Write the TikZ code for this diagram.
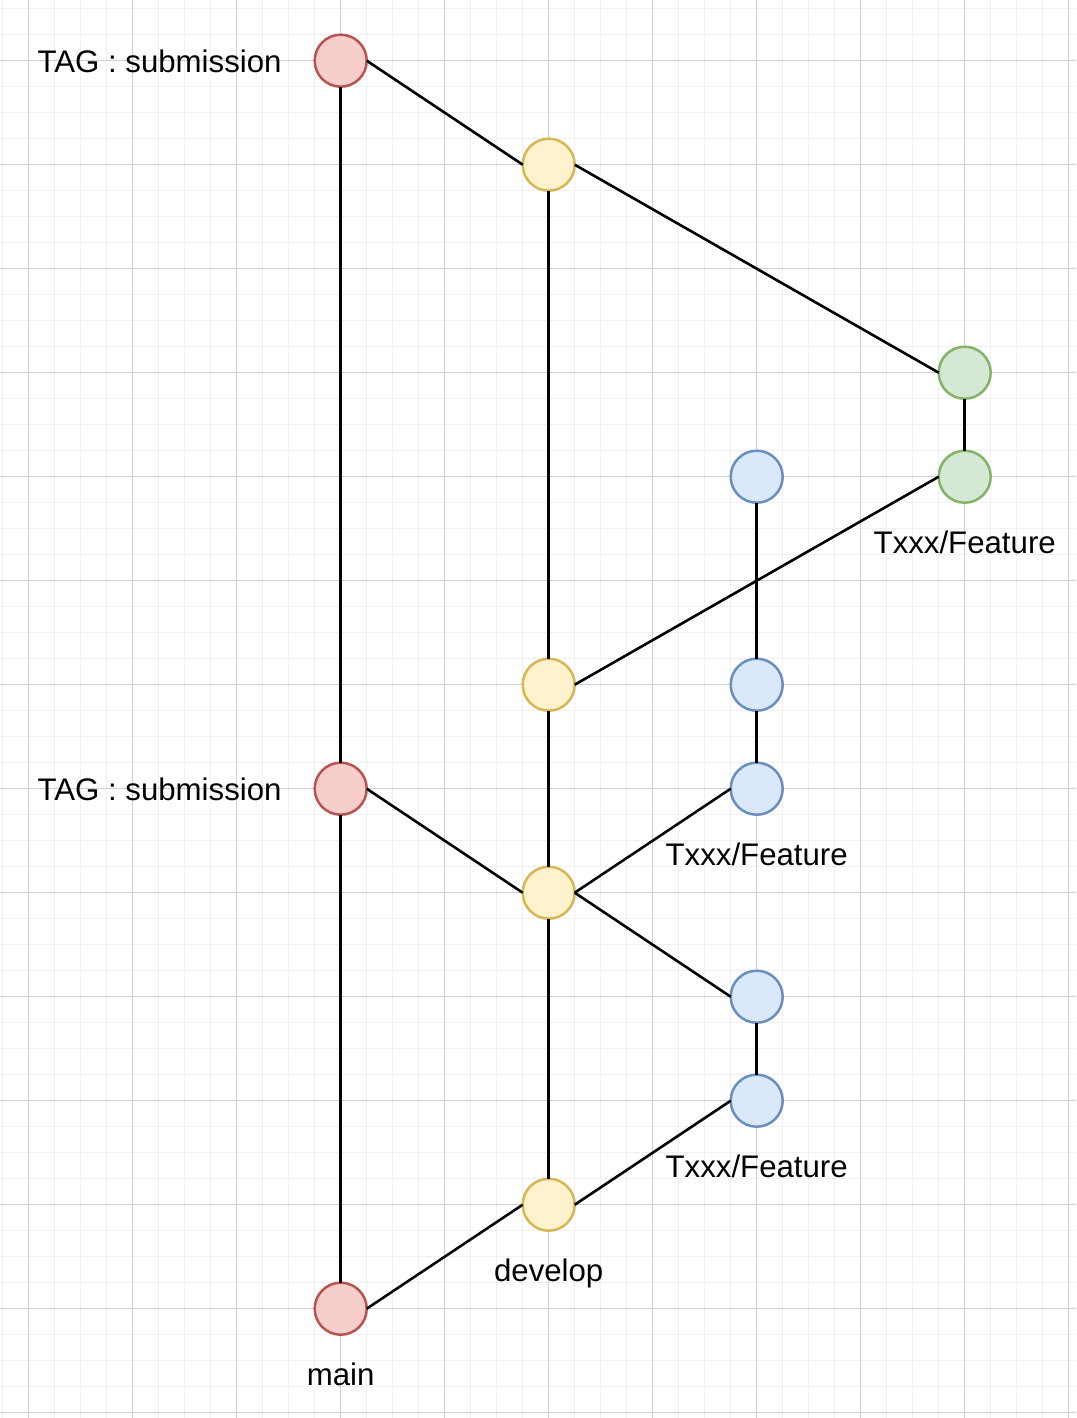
\documentclass[tikz,border=0pt]{standalone}
\usepackage{fontspec}
\setmainfont{Liberation Sans}
\usetikzlibrary{calc}
\definecolor{mainfill}{HTML}{F8CECC}
\definecolor{mainline}{HTML}{B85450}
\definecolor{devfill}{HTML}{FFF2CC}
\definecolor{devline}{HTML}{D6B656}
\definecolor{hotfill}{HTML}{D5E8D4}
\definecolor{hotline}{HTML}{82B366}
\definecolor{featfill}{HTML}{DAE8FC}
\definecolor{featline}{HTML}{6C8EBF}
\definecolor{minorgrid}{HTML}{F0F0F0}
\definecolor{majorgrid}{HTML}{D0D0D0}

\begin{document}
\begin{tikzpicture}[
    x=1pt, y=-1pt,
    commit/.style={circle, minimum size=52pt, inner sep=0pt, outer sep=0pt, line width=2.5pt},
    main commit/.style={commit, draw=mainline, fill=mainfill},
    dev commit/.style={commit, draw=devline, fill=devfill},
    hot commit/.style={commit, draw=hotline, fill=hotfill},
    feat commit/.style={commit, draw=featline, fill=featfill},
    branch/.style={line width=2.6pt},
    lbl/.style={font=\fontsize{31.2}{36}\selectfont, inner sep=0pt},
    ]
    \useasboundingbox[fill=white] (0,0) rectangle (1076,1418);
    % grid
    \foreach \k in {0,...,41} \draw[minorgrid, line width=1pt] ({2.7+26*\k},0) -- ({2.7+26*\k},1418);
    \foreach \k in {0,...,54} \draw[minorgrid, line width=1pt] (0,{8.7+26*\k}) -- (1076,{8.7+26*\k});
    \foreach \k in {0,...,10} \draw[majorgrid, line width=1pt] ({28.7+104*\k},0) -- ({28.7+104*\k},1418);
    \foreach \k in {0,...,13} \draw[majorgrid, line width=1pt] (0,{60.7+104*\k}) -- (1076,{60.7+104*\k});

    \node at(340.7,60.7) [main commit](m1){};
    \node at(340.7,788.7) [main commit](m2){};
    \node at(340.7,1308.7) [main commit](m3){};

    \node at(548.7,164.7) [dev commit](d1){};
    \node at(548.7,684.7) [dev commit](d2){};
    \node at(548.7,892.7) [dev commit](d3){};
    \node at(548.7,1204.7) [dev commit](d4){};

    \node at(964.7,372.7) [hot commit](g1){};
    \node at(964.7,476.7) [hot commit](g2){};

    \node at(756.7,476.7) [feat commit](f1){};
    \node at(756.7,684.7) [feat commit](f2){};
    \node at(756.7,788.7) [feat commit](f3){};
    \node at(756.7,996.7) [feat commit](f4){};
    \node at(756.7,1100.7) [feat commit](f5){};

    \draw[branch] (m1) -- (m2);
    \draw[branch] (m2) -- (m3);
    \draw[branch] (m1.east) -- (d1.west);
    \draw[branch] (d1) -- (d2);
    \draw[branch] (d1.east) -- (g1.west);
    \draw[branch] (g1) -- (g2);
    \draw[branch] (g2.west) -- (d2.east);
    \draw[branch] (f1) -- (f2);
    \draw[branch] (f2) -- (f3);
    \draw[branch] (d2) -- (d3);
    \draw[branch] (d3) -- (d4);
    \draw[branch] (m2.east) -- (d3.west);
    \draw[branch] (d3.east) -- (f3.west);
    \draw[branch] (d3.east) -- (f4.west);
    \draw[branch] (f4) -- (f5);
    \draw[branch] (f5.west) -- (d4.east);
    \draw[branch] (d4.west) -- (m3.east);

    \node at([xshift=-59pt, yshift=-11.8pt] m1) [lbl, anchor=base east](tag1){TAG : submission};
    \node at([xshift=-59pt, yshift=-11.8pt] m2) [lbl, anchor=base east](tag2){TAG : submission};
    \node at([yshift=-76.7pt] g2) [lbl, anchor=base](lg2){Txxx/Feature};
    \node at([yshift=-76.7pt] f3) [lbl, anchor=base](lf3){Txxx/Feature};
    \node at([yshift=-76.7pt] f5) [lbl, anchor=base](lf5){Txxx/Feature};
    \node at([yshift=-76.7pt] d4) [lbl, anchor=base](ldev){develop};
    \node at([yshift=-76.7pt] m3) [lbl, anchor=base](lmain){main};
\end{tikzpicture}
\end{document}
